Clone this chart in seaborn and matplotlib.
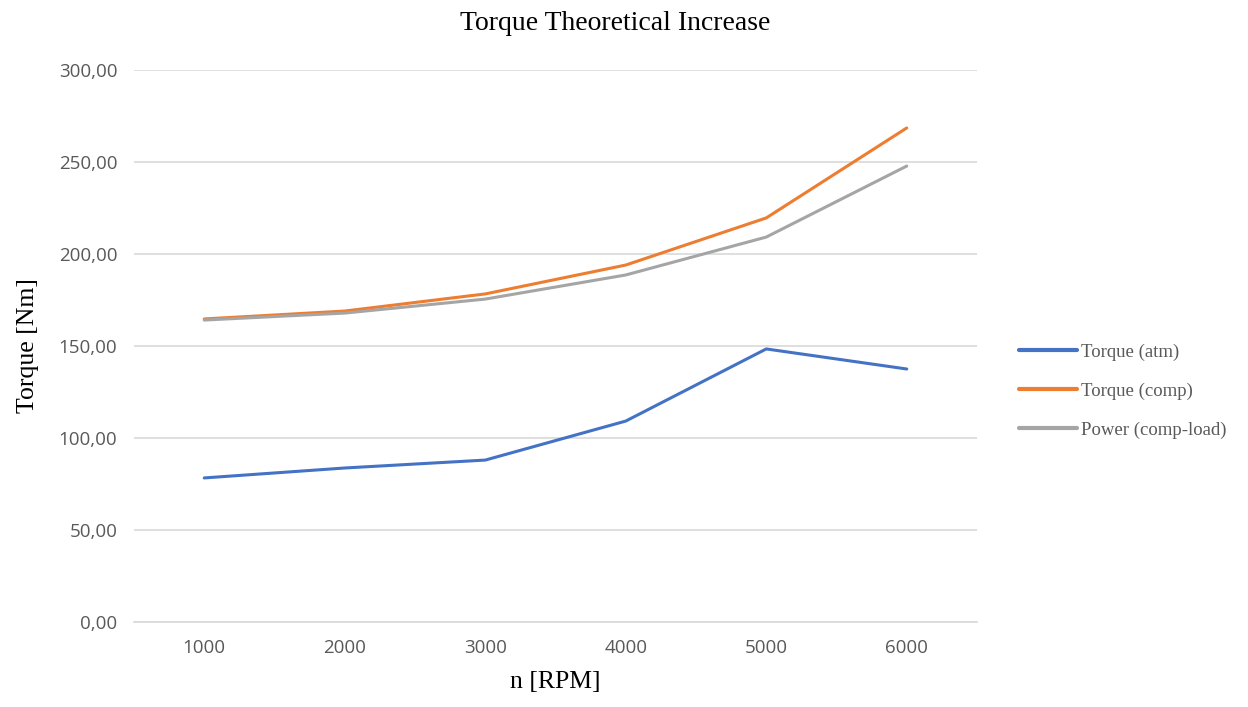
import matplotlib
matplotlib.use("Agg")
import matplotlib.pyplot as plt
import seaborn as sns
import pandas as pd
from matplotlib.ticker import FuncFormatter

rpm = [1000, 2000, 3000, 4000, 5000, 6000]
torque_atm = [78.3, 83.7, 88.0, 109.2, 148.4, 137.5]
torque_comp = [164.7, 169.0, 178.3, 194.0, 219.6, 268.5]
power_comp_load = [164.1, 167.9, 175.5, 188.6, 209.2, 247.8]
series_names = ["Torque (atm)", "Torque (comp)", "Power (comp-load)"]
colors = ["#4472C4", "#ED7D31", "#A5A5A5"]

df = pd.concat([
    pd.DataFrame({"pos": range(len(rpm)), "value": vals, "series": name})
    for name, vals in zip(series_names, [torque_atm, torque_comp, power_comp_load])
])

sns.set_theme(style="white")
fig = plt.figure(figsize=(12.48, 7.07), dpi=100)
ax = fig.add_axes([134/1248, 1 - 622/707, (977-134)/1248, (622-70)/707])

sns.lineplot(data=df, x="pos", y="value", hue="series", palette=colors,
             hue_order=series_names, linewidth=2.2, ax=ax, legend=True)

ax.set_xlim(-0.5, len(rpm) - 0.5)
ax.set_ylim(0, 300)
ax.set_yticks(range(0, 301, 50))
ax.yaxis.set_major_formatter(FuncFormatter(lambda v, p: f"{v:.2f}".replace(".", ",")))
ax.set_xticks(range(len(rpm)))
ax.set_xticklabels([str(r) for r in rpm])
ax.grid(axis="y", color="#D9D9D9", linewidth=1.2)
ax.grid(axis="x", visible=False)
for s in ["top", "right", "left"]:
    ax.spines[s].set_visible(False)
ax.spines["bottom"].set_color("#D9D9D9")
ax.spines["bottom"].set_linewidth(1.2)
ax.tick_params(axis="both", length=0, labelsize=13.5, labelcolor="#595959", pad=12)
for lab in ax.get_xticklabels() + ax.get_yticklabels():
    lab.set_family("Open Sans")

ax.set_xlabel("n [RPM]", fontsize=18.5, family="Liberation Serif", color="black", labelpad=10)
ax.set_ylabel("Torque [Nm]", fontsize=18.5, family="Liberation Serif", color="black", labelpad=14)
fig.text(615/1248, 1 - 23/707, "Torque Theoretical Increase", ha="center", va="center",
         fontsize=20, family="Liberation Serif", color="black")

leg = ax.legend(loc="center left", bbox_to_anchor=(1.03, 0.418), frameon=False,
                prop={"family": "Liberation Serif", "size": 13.5}, labelspacing=1.15,
                handlelength=3.1, handletextpad=0.2)
for t in leg.get_texts():
    t.set_color("#595959")
for h in leg.get_lines():
    h.set_linewidth(3)

fig.savefig("out.png", dpi=100, facecolor="white")
